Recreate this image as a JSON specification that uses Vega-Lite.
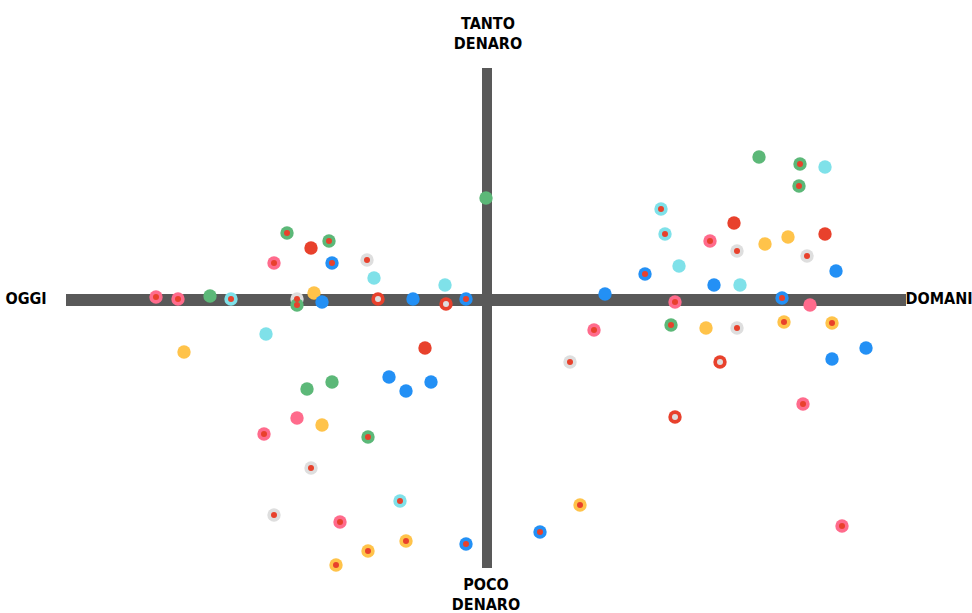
{
  "$schema": "https://vega.github.io/schema/vega-lite/v6.json",
  "width": 972,
  "height": 613,
  "autosize": {"type": "none"},
  "padding": 0,
  "background": "white",
  "config": {"view": {"stroke": null}},
  "datasets": {
    "points": [
      {"x": -331, "y": 3, "c": "pink", "inner": "red"},
      {"x": -309, "y": 1, "c": "pink", "inner": "red"},
      {"x": -277, "y": 4, "c": "green", "inner": "none"},
      {"x": -256, "y": 1, "c": "cyan", "inner": "red"},
      {"x": -190, "y": 1, "c": "gray", "inner": "red"},
      {"x": -173, "y": 7, "c": "yellow", "inner": "none"},
      {"x": -165, "y": -2, "c": "blue", "inner": "none"},
      {"x": -190, "y": -5, "c": "green", "inner": "red"},
      {"x": -200, "y": 67, "c": "green", "inner": "red"},
      {"x": -176, "y": 52, "c": "red", "inner": "none"},
      {"x": -158, "y": 59, "c": "green", "inner": "red"},
      {"x": -213, "y": 37, "c": "pink", "inner": "red"},
      {"x": -155, "y": 37, "c": "blue", "inner": "red"},
      {"x": -120, "y": 40, "c": "gray", "inner": "red"},
      {"x": -113, "y": 22, "c": "cyan", "inner": "none"},
      {"x": -109, "y": 1, "c": "red", "inner": "gray"},
      {"x": -74, "y": 1, "c": "blue", "inner": "none"},
      {"x": -42, "y": 15, "c": "cyan", "inner": "none"},
      {"x": -41, "y": -4, "c": "red", "inner": "gray"},
      {"x": -21, "y": 1, "c": "blue", "inner": "red"},
      {"x": -1, "y": 102, "c": "green", "inner": "none"},
      {"x": -303, "y": -52, "c": "yellow", "inner": "none"},
      {"x": -221, "y": -34, "c": "cyan", "inner": "none"},
      {"x": -62, "y": -48, "c": "red", "inner": "none"},
      {"x": -180, "y": -89, "c": "green", "inner": "none"},
      {"x": -155, "y": -82, "c": "green", "inner": "none"},
      {"x": -98, "y": -77, "c": "blue", "inner": "none"},
      {"x": -81, "y": -91, "c": "blue", "inner": "none"},
      {"x": -56, "y": -82, "c": "blue", "inner": "none"},
      {"x": -190, "y": -118, "c": "pink", "inner": "none"},
      {"x": -165, "y": -125, "c": "yellow", "inner": "none"},
      {"x": -223, "y": -134, "c": "pink", "inner": "red"},
      {"x": -119, "y": -137, "c": "green", "inner": "red"},
      {"x": -176, "y": -168, "c": "gray", "inner": "red"},
      {"x": -87, "y": -201, "c": "cyan", "inner": "red"},
      {"x": -213, "y": -215, "c": "gray", "inner": "red"},
      {"x": -147, "y": -222, "c": "pink", "inner": "red"},
      {"x": -81, "y": -241, "c": "yellow", "inner": "red"},
      {"x": -119, "y": -251, "c": "yellow", "inner": "red"},
      {"x": -151, "y": -265, "c": "yellow", "inner": "red"},
      {"x": -21, "y": -244, "c": "blue", "inner": "red"},
      {"x": 272, "y": 143, "c": "green", "inner": "none"},
      {"x": 313, "y": 136, "c": "green", "inner": "red"},
      {"x": 338, "y": 133, "c": "cyan", "inner": "none"},
      {"x": 312, "y": 114, "c": "green", "inner": "red"},
      {"x": 174, "y": 91, "c": "cyan", "inner": "red"},
      {"x": 178, "y": 66, "c": "cyan", "inner": "red"},
      {"x": 247, "y": 77, "c": "red", "inner": "none"},
      {"x": 223, "y": 59, "c": "pink", "inner": "red"},
      {"x": 250, "y": 49, "c": "gray", "inner": "red"},
      {"x": 278, "y": 56, "c": "yellow", "inner": "none"},
      {"x": 301, "y": 63, "c": "yellow", "inner": "none"},
      {"x": 338, "y": 66, "c": "red", "inner": "none"},
      {"x": 320, "y": 44, "c": "gray", "inner": "red"},
      {"x": 158, "y": 26, "c": "blue", "inner": "red"},
      {"x": 192, "y": 34, "c": "cyan", "inner": "none"},
      {"x": 227, "y": 15, "c": "blue", "inner": "none"},
      {"x": 253, "y": 15, "c": "cyan", "inner": "none"},
      {"x": 349, "y": 29, "c": "blue", "inner": "none"},
      {"x": 118, "y": 6, "c": "blue", "inner": "none"},
      {"x": 188, "y": -2, "c": "pink", "inner": "red"},
      {"x": 295, "y": 2, "c": "blue", "inner": "red"},
      {"x": 323, "y": -5, "c": "pink", "inner": "none"},
      {"x": 107, "y": -30, "c": "pink", "inner": "red"},
      {"x": 184, "y": -25, "c": "green", "inner": "red"},
      {"x": 219, "y": -28, "c": "yellow", "inner": "none"},
      {"x": 250, "y": -28, "c": "gray", "inner": "red"},
      {"x": 297, "y": -22, "c": "yellow", "inner": "red"},
      {"x": 345, "y": -23, "c": "yellow", "inner": "red"},
      {"x": 379, "y": -48, "c": "blue", "inner": "none"},
      {"x": 345, "y": -59, "c": "blue", "inner": "none"},
      {"x": 233, "y": -62, "c": "red", "inner": "gray"},
      {"x": 83, "y": -62, "c": "gray", "inner": "red"},
      {"x": 188, "y": -117, "c": "red", "inner": "gray"},
      {"x": 316, "y": -104, "c": "pink", "inner": "red"},
      {"x": 355, "y": -226, "c": "pink", "inner": "red"},
      {"x": 93, "y": -205, "c": "yellow", "inner": "red"},
      {"x": 53, "y": -232, "c": "blue", "inner": "red"}
    ],
    "hbar": [{"x": -421, "x2": 419, "y": 0}],
    "vbar": [{"x": 0, "y": 232, "y2": -268}],
    "labels": [
      {"label": "OGGI", "x": -461, "y": 1},
      {"label": "DOMANI", "x": 452, "y": 1},
      {"label": "TANTO\nDENARO", "x": 1, "y": 276},
      {"label": "POCO\nDENARO", "x": -1, "y": -285}
    ]
  },
  "layer": [
    {
      "data": {"name": "hbar"},
      "mark": {"type": "rule", "strokeWidth": 12, "color": "#595959", "strokeCap": "butt"},
      "encoding": {
        "x": {"field": "x", "type": "quantitative", "scale": {"domain": [-487, 485], "nice": false, "zero": false}, "axis": null},
        "x2": {"field": "x2"},
        "y": {"field": "y", "type": "quantitative", "scale": {"domain": [-313, 300], "nice": false, "zero": false}, "axis": null}
      }
    },
    {
      "data": {"name": "vbar"},
      "mark": {"type": "rule", "strokeWidth": 10, "color": "#595959", "strokeCap": "butt"},
      "encoding": {
        "x": {"field": "x", "type": "quantitative"},
        "y": {"field": "y", "type": "quantitative"},
        "y2": {"field": "y2"}
      }
    },
    {
      "data": {"name": "points"},
      "mark": {"type": "circle", "size": 180, "opacity": 1},
      "encoding": {
        "x": {"field": "x", "type": "quantitative"},
        "y": {"field": "y", "type": "quantitative"},
        "color": {
          "field": "c",
          "type": "nominal",
          "legend": null,
          "scale": {
            "domain": ["green", "red", "blue", "cyan", "pink", "yellow", "gray"],
            "range": ["#5cb878", "#e8412c", "#2390f5", "#7fe1e9", "#ff6b8c", "#ffc34a", "#dedede"]
          }
        }
      }
    },
    {
      "data": {"name": "points"},
      "transform": [{"filter": "datum.inner !== 'none'"}],
      "mark": {"type": "circle", "size": 36, "opacity": 1},
      "encoding": {
        "x": {"field": "x", "type": "quantitative"},
        "y": {"field": "y", "type": "quantitative"},
        "color": {"field": "inner", "type": "nominal", "legend": null}
      }
    },
    {
      "data": {"name": "labels"},
      "mark": {
        "type": "text",
        "align": "center",
        "baseline": "middle",
        "lineBreak": "\n",
        "lineHeight": 20,
        "font": "DejaVu Sans Condensed",
        "fontWeight": "bold",
        "fontSize": 16,
        "color": "#000000"
      },
      "encoding": {
        "x": {"field": "x", "type": "quantitative"},
        "y": {"field": "y", "type": "quantitative"},
        "text": {"field": "label", "type": "nominal"}
      }
    }
  ]
}
